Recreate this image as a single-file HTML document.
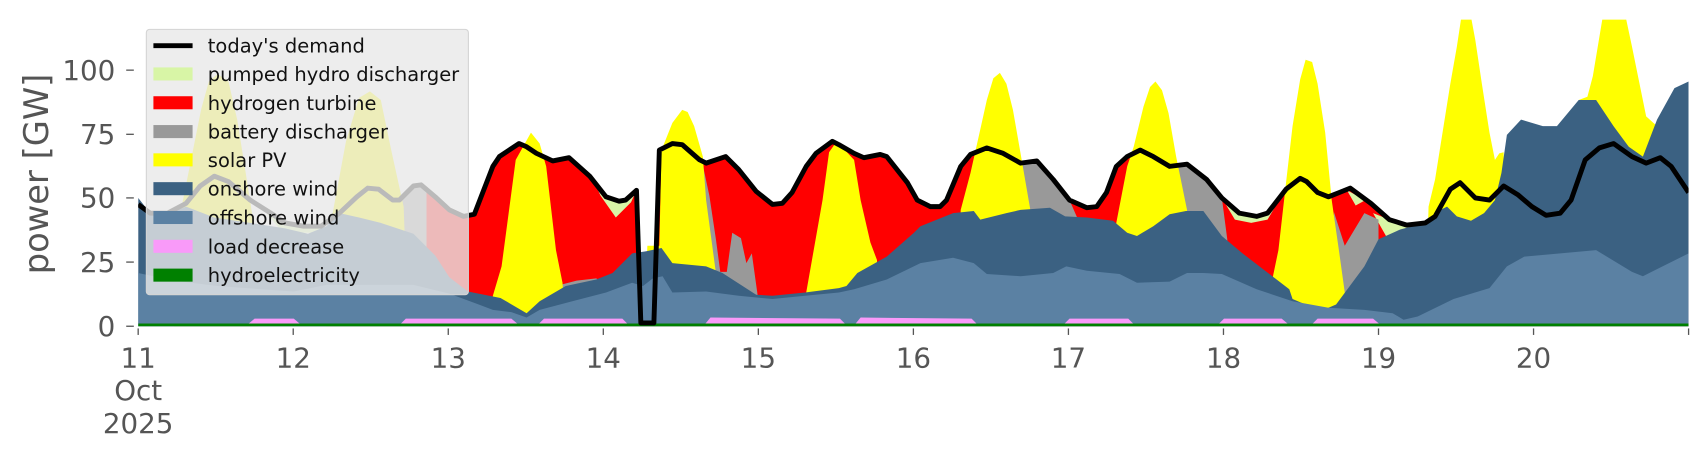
<!DOCTYPE html>
<html><head><meta charset="utf-8"><style>
html,body{margin:0;padding:0;background:#fff;}
svg{display:block;}
text{font-family:"DejaVu Sans","Liberation Sans",sans-serif;}
</style></head><body>
<svg width="1706" height="460" viewBox="0 0 1568 423" preserveAspectRatio="none" xmlns="http://www.w3.org/2000/svg">
<defs><clipPath id="c"><rect x="127" y="18" width="1425" height="283"/></clipPath></defs>
<g clip-path="url(#c)">
<polygon fill="#ff0000" points="385,300 387,170 400,181 413,193 426,199 436,197 441,184 453,153 459,144 477,132 484,135 493,141 508,148 523,145 542,162 557,181 569,185 575,184 585,175 589,297 601,297 606,138 618,132 627,133 643,147 649,150 667,144 679,156 695,176 710,188 719,187 728,177 741,153 750,141 765,130 771,133 785,141 794,145 809,142 815,144 834,168 843,184 855,190 864,190 870,184 883,153 892,142 907,136 922,141 938,150 953,148 968,165 983,184 999,191 1008,190 1017,177 1026,153 1036,144 1048,138 1060,144 1075,153 1091,151 1109,165 1123,182 1139,196 1155,199 1165,196 1182,174 1195,164 1201,167 1211,177 1221,181 1231,177 1241,173 1260,187 1277,202 1293,207 1310,205 1319,199 1333,174 1342,168 1356,182 1369,184 1382,171 1395,179 1408,190 1421,198 1434,196 1444,184 1457,147 1470,136 1483,132 1500,144 1513,150 1526,145 1536,153 1552,177 1552,300"/>
<g fill="#d8f5a6">
<polygon points="545,165 557,181 569,185 575,184 585,175 580,186 566,200 552,180"/>
<polygon points="1123,182 1139,196 1155,199 1165,196 1175,185 1165,202 1150,205 1135,202"/>
<polygon points="1262,196 1277,202 1293,207 1300,210 1275,219"/>
<polygon points="1238,175 1255,184 1246,189"/>
<polygon points="240,190 262,205 279,208 295,208 300,214 260,214"/>
</g>
<g fill="#999999">
<polygon points="340,176 348,174 361,184 367,184 380,171 387,170 392,175 392,300 340,300"/>
<polygon points="515,262 530,258 548,256 556,262 556,300 515,300"/>
<polygon points="646,152 652,180 658,220 662,250 668,250 673,214 681,219 686,242 691,233 696,269 700,300 640,300"/>
<polygon points="930,145 938,150 953,148 968,165 983,184 990,200 985,300 930,300"/>
<polygon points="1065,148 1075,153 1091,151 1109,165 1123,182 1128,220 1128,300 1065,300"/>
<polygon points="1226,195 1236,226 1254,196 1267,202 1267,300 1226,300"/>
</g>
<g fill="#ffff00">
<polygon points="160,300 164,205 175,150 185,100 192,75 200,68 210,75 218,110 226,160 233,205 237,300"/>
<polygon points="300,300 305,200 318,130 330,90 340,84 350,92 360,140 371,190 375,300"/>
<polygon points="450,300 453,272 461,245 474,147 488,122 496,132 502,153 511,230 517,260 520,300"/>
<polygon points="592,300 595,226 606,226 608,138 618,113 627,101 632,103 638,116 646,144 649,184 658,251 662,300"/>
<polygon points="738,300 741,269 756,184 762,140 769,130 785,147 791,184 800,223 806,239 810,300"/>
<polygon points="880,300 883,193 892,159 901,119 907,92 913,72 919,67 925,77 931,101 938,141 947,193 950,300"/>
<polygon points="1022,300 1026,205 1036,153 1042,135 1051,98 1057,80 1062,75 1068,83 1074,104 1081,144 1091,193 1094,300"/>
<polygon points="1168,300 1170,254 1175,230 1182,168 1188,116 1195,73 1200,55 1206,57 1211,77 1218,122 1224,184 1231,233 1236,269 1240,300"/>
<polygon points="1310,300 1313,190 1319,165 1333,77 1339,43 1344,10 1351,10 1356,37 1362,77 1369,122 1374,147 1378,141 1382,140 1385,300"/>
<polygon points="1448,300 1451,92 1459,89 1464,70 1474,10 1493,10 1500,43 1513,107 1523,116 1529,101 1535,300"/>
</g>
<polygon fill="#3b6182" points="127,300 127,182 138,196 154,197 171,190 197,200 230,205 262,210 283,215 300,208 312,196 330,200 350,205 380,215 400,235 413,255 430,268 460,274 484,288 496,277 520,263 548,257 563,251 581,233 594,231 608,228 618,242 649,245 664,251 695,271 710,272 740,269 771,265 778,263 788,251 815,236 840,214 846,208 876,196 895,194 901,202 925,196 938,193 965,191 979,199 999,200 1023,203 1036,214 1045,217 1060,208 1075,197 1090,194 1106,194 1123,217 1142,233 1172,256 1185,266 1188,275 1214,286 1228,280 1254,245 1267,220 1287,211 1310,205 1320,195 1330,190 1339,199 1352,203 1364,196 1374,184 1380,159 1385,124 1398,110 1418,116 1431,116 1451,92 1467,92 1483,116 1497,135 1510,144 1523,110 1539,81 1552,75 1552,300"/>
<polygon fill="#5b81a3" points="127,300 127,251 160,258 200,263 240,266 270,268 300,262 340,262 380,262 413,270 440,280 453,285 470,287 484,292 496,285 526,277 557,269 581,260 591,263 600,256 609,254 618,269 649,268 679,272 710,275 740,272 771,269 785,266 815,257 846,242 876,237 895,242 907,252 938,254 968,251 980,245 999,249 1029,252 1045,260 1075,259 1091,251 1106,251 1123,252 1155,266 1188,277 1221,283 1254,285 1280,288 1290,294 1303,291 1336,275 1369,265 1385,245 1401,236 1467,230 1500,250 1510,254 1552,233 1552,300"/>
<g fill="#f99af9">
<polygon points="228,298 234,293 270,293 276,298"/>
<polygon points="368,298 373,293 470,293 476,298"/>
<polygon points="495,298 500,293 572,293 577,298"/>
<polygon points="648,298 653,292 772,293 777,298"/>
<polygon points="786,298 791,292 893,293 898,298"/>
<polygon points="978,298 983,293 1037,293 1042,298"/>
<polygon points="1120,298 1125,293 1178,293 1184,298"/>
<polygon points="1206,298 1211,293 1262,293 1268,298"/>
</g>
<rect x="127" y="297.5" width="1425" height="2.5" fill="#008000"/>
<polyline fill="none" stroke="#000" stroke-width="4.5" stroke-linejoin="round" points="127,188 138,196 154,196 171,187 184,171 197,162 210,167 230,184 249,196 262,205 279,208 295,208 312,196 328,181 338,173 348,174 361,184 367,184 380,171 387,170 400,181 413,193 426,199 436,197 441,184 453,153 459,144 477,132 484,135 493,141 508,148 523,145 542,162 557,181 569,185 575,184 585,175 589,297 601,297 606,138 618,132 627,133 643,147 649,150 667,144 679,156 695,176 710,188 719,187 728,177 741,153 750,141 765,130 771,133 785,141 794,145 809,142 815,144 834,168 843,184 855,190 864,190 870,184 883,153 892,142 907,136 922,141 938,150 953,148 968,165 983,184 999,191 1008,190 1017,177 1026,153 1036,144 1048,138 1060,144 1075,153 1091,151 1109,165 1123,182 1139,196 1155,199 1165,196 1182,174 1195,164 1201,167 1211,177 1221,181 1231,177 1241,173 1260,187 1277,202 1293,207 1310,205 1319,199 1333,174 1342,168 1356,182 1369,184 1382,171 1395,179 1408,190 1421,198 1434,196 1444,184 1457,147 1470,136 1483,132 1500,144 1513,150 1526,145 1536,153 1552,177"/>
</g>
<g stroke="#555" stroke-width="1.2">
<line x1="116" y1="300" x2="123" y2="300"/><line x1="116" y1="241" x2="123" y2="241"/><line x1="116" y1="182" x2="123" y2="182"/><line x1="116" y1="123.5" x2="123" y2="123.5"/><line x1="116" y1="64.5" x2="123" y2="64.5"/>
<line x1="127" y1="302" x2="127" y2="308"/><line x1="269.5" y1="302" x2="269.5" y2="308"/><line x1="412" y1="302" x2="412" y2="308"/><line x1="554.5" y1="302" x2="554.5" y2="308"/><line x1="697" y1="302" x2="697" y2="308"/><line x1="839.5" y1="302" x2="839.5" y2="308"/><line x1="982" y1="302" x2="982" y2="308"/><line x1="1124.5" y1="302" x2="1124.5" y2="308"/><line x1="1267" y1="302" x2="1267" y2="308"/><line x1="1409.5" y1="302" x2="1409.5" y2="308"/><line x1="1552" y1="302" x2="1552" y2="308"/>
</g>
<g fill="#555" font-size="25.5" text-anchor="end">
<text x="106" y="309">0</text><text x="106" y="250">25</text><text x="106" y="191">50</text><text x="106" y="132.5">75</text><text x="106" y="73.5">100</text>
</g>
<g fill="#555" font-size="25.5" text-anchor="middle">
<text x="127" y="338">11</text><text x="127" y="368">Oct</text><text x="127" y="398">2025</text>
<text x="269.5" y="338">12</text><text x="412" y="338">13</text><text x="554.5" y="338">14</text><text x="697" y="338">15</text><text x="839.5" y="338">16</text><text x="982" y="338">17</text><text x="1124.5" y="338">18</text><text x="1267" y="338">19</text><text x="1409.5" y="338">20</text>
</g>
<text x="0" y="0" fill="#555" font-size="31" text-anchor="middle" transform="translate(44,160) rotate(-90)">power [GW]</text>
<rect x="134.5" y="27" width="296" height="244" rx="3" fill="rgba(232,232,232,0.8)" stroke="#d4d4d4" stroke-width="1"/>
<line x1="141" y1="42" x2="177" y2="42" stroke="#000" stroke-width="4.5"/>
<rect x="141" y="62" width="36" height="12" fill="#d8f5a6"/>
<rect x="141" y="88.5" width="36" height="12" fill="#ff0000"/>
<rect x="141" y="115" width="36" height="12" fill="#999999"/>
<rect x="141" y="141" width="36" height="12" fill="#ffff00"/>
<rect x="141" y="167.5" width="36" height="12" fill="#3b6182"/>
<rect x="141" y="194" width="36" height="12" fill="#5b81a3"/>
<rect x="141" y="220.5" width="36" height="12" fill="#f99af9"/>
<rect x="141" y="247" width="36" height="12" fill="#008000"/>
<g fill="#111" font-size="17.9">
<text x="191" y="48.5">today's demand</text>
<text x="191" y="74.5">pumped hydro discharger</text>
<text x="191" y="101">hydrogen turbine</text>
<text x="191" y="127.5">battery discharger</text>
<text x="191" y="153.5">solar PV</text>
<text x="191" y="180">onshore wind</text>
<text x="191" y="206.5">offshore wind</text>
<text x="191" y="233">load decrease</text>
<text x="191" y="259.5">hydroelectricity</text>
</g>
</svg>
</body></html>
